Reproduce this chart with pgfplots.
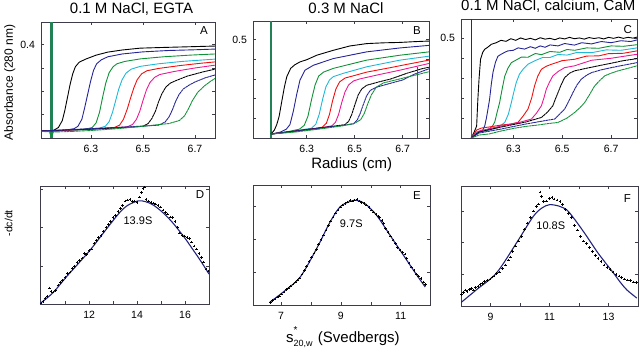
\documentclass[border=0pt]{standalone}
\usepackage{fontspec}
\setmainfont{Liberation Sans}
\usepackage{pgfplots}
\pgfplotsset{compat=1.18}
\definecolor{cframe}{RGB}{60,60,75}
\definecolor{cnavy}{RGB}{35,35,150}
\definecolor{cgreen}{RGB}{15,145,55}
\definecolor{ccyan}{RGB}{30,185,215}
\definecolor{cred}{RGB}{240,15,15}
\definecolor{cmag}{RGB}{235,25,150}
\definecolor{cfit}{RGB}{35,35,125}
\definecolor{cmen}{RGB}{35,130,85}
\definecolor{cvert}{RGB}{225,25,25}
\pgfplotsset{
  panel/.style={scale only axis, anchor=south west,
    axis line style={draw=cframe, line width=0.7pt},
    every tick/.style={draw=cframe, line width=0.5pt},
    major tick length=3pt, tick align=inside,
    xtick pos=both, ytick pos=both,
    ticklabel style={font=\fontsize{10.5}{12}\selectfont, text=black},
    xticklabel style={yshift=-4pt}, yticklabel style={xshift=-2.5pt},
    /pgf/number format/assume math mode=true},
  cv/.style={line width=0.9pt, mark=none},
  cvd/.style={cv, dash pattern=on 2.5pt off 0.45pt},
  fit/.style={cfit, line width=1.1pt, mark=none, smooth},
  sc/.style={only marks, mark=+, mark size=1.3pt, black, mark options={line width=0.6pt}},
}
\begin{document}
\begin{tikzpicture}
\useasboundingbox (0pt,0pt) rectangle (640pt,353pt);
% ---------------- A
\begin{axis}[panel, at={(41pt,215pt)}, width=174pt, height=116pt,
  xmin=6.108, xmax=6.777, ymin=0, ymax=0.497,
  xtick={6.3,6.5,6.7}, xticklabels={6.3,6.5,6.7},
  ytick={0.1,0.2,0.3,0.4}, yticklabels={,,,0.4}]
\addplot[cmen, line width=2.6pt] coordinates {(6.148,0) (6.148,0.497)};
\addplot[cv, black] coordinates {(6.11,0.030) (6.14,0.028) (6.16,0.035) (6.175,0.045) (6.19,0.075) (6.20,0.12) (6.21,0.175) (6.22,0.23) (6.23,0.275) (6.24,0.305) (6.255,0.325) (6.28,0.338) (6.32,0.355) (6.365,0.368) (6.42,0.377) (6.49,0.385) (6.58,0.388) (6.68,0.391) (6.777,0.394)};
\addplot[cv, cnavy] coordinates {(6.11,0.03) (6.15,0.028) (6.2,0.033) (6.235,0.04) (6.25,0.05) (6.265,0.08) (6.275,0.125) (6.287,0.185) (6.298,0.24) (6.31,0.29) (6.322,0.318) (6.34,0.335) (6.365,0.348) (6.42,0.36) (6.5,0.369) (6.6,0.375) (6.7,0.378) (6.777,0.381)};
\addplot[cv, cgreen] coordinates {(6.11,0.03) (6.2,0.032) (6.28,0.038) (6.305,0.045) (6.32,0.065) (6.333,0.11) (6.345,0.175) (6.357,0.235) (6.37,0.28) (6.385,0.305) (6.40,0.318) (6.43,0.328) (6.49,0.339) (6.58,0.348) (6.68,0.355) (6.777,0.36)};
\addplot[cv, ccyan] coordinates {(6.11,0.03) (6.25,0.034) (6.33,0.042) (6.355,0.05) (6.37,0.07) (6.383,0.11) (6.395,0.16) (6.407,0.21) (6.42,0.25) (6.435,0.278) (6.455,0.295) (6.49,0.307) (6.56,0.318) (6.65,0.328) (6.777,0.338)};
\addplot[cv, cred] coordinates {(6.11,0.03) (6.3,0.037) (6.39,0.045) (6.41,0.055) (6.425,0.08) (6.44,0.125) (6.452,0.17) (6.465,0.215) (6.478,0.25) (6.495,0.275) (6.515,0.288) (6.56,0.298) (6.64,0.31) (6.72,0.32) (6.777,0.326)};
\addplot[cv, cmag] coordinates {(6.11,0.03) (6.35,0.04) (6.44,0.048) (6.46,0.058) (6.475,0.08) (6.488,0.115) (6.5,0.16) (6.513,0.205) (6.527,0.238) (6.545,0.26) (6.565,0.272) (6.62,0.285) (6.7,0.3) (6.777,0.312)};
\addplot[cvd, black] coordinates {(6.11,0.03) (6.4,0.043) (6.5,0.05) (6.52,0.062) (6.535,0.085) (6.548,0.115) (6.56,0.155) (6.573,0.19) (6.588,0.218) (6.605,0.235) (6.625,0.245) (6.67,0.265) (6.73,0.283) (6.777,0.295)};
\addplot[cvd, cnavy] coordinates {(6.11,0.03) (6.45,0.048) (6.56,0.055) (6.585,0.068) (6.6,0.09) (6.613,0.12) (6.625,0.155) (6.638,0.185) (6.655,0.21) (6.675,0.225) (6.7,0.24) (6.74,0.258) (6.777,0.27)};
\addplot[cvd, cgreen] coordinates {(6.11,0.028) (6.14,0.027) (6.148,0.004) (6.156,0.026) (6.2,0.027) (6.3,0.032) (6.4,0.04) (6.5,0.05) (6.6,0.062) (6.64,0.075) (6.66,0.095) (6.675,0.125) (6.69,0.16) (6.71,0.195) (6.735,0.222) (6.76,0.243) (6.777,0.255)};
\end{axis}
% ---------------- B
\begin{axis}[panel, at={(253pt,215pt)}, width=176pt, height=117pt,
  xmin=6.076, xmax=6.81, ymin=0, ymax=0.595,
  xtick={6.3,6.5,6.7}, xticklabels={6.3,6.5,6.7},
  ytick={0.1,0.2,0.3,0.4,0.5}, yticklabels={,,,,0.5}]
\addplot[cmen, line width=2.6pt] coordinates {(6.151,0) (6.151,0.595)};
\addplot[cv, black] coordinates {(6.151,0.02) (6.165,0.04) (6.175,0.068) (6.185,0.11) (6.196,0.186) (6.207,0.26) (6.217,0.312) (6.233,0.354) (6.25,0.372) (6.272,0.387) (6.3,0.398) (6.342,0.421) (6.411,0.446) (6.48,0.468) (6.55,0.48) (6.62,0.484) (6.689,0.486) (6.75,0.49) (6.81,0.493)};
\addplot[cv, cnavy] coordinates {(6.151,0.02) (6.19,0.03) (6.215,0.045) (6.23,0.068) (6.244,0.135) (6.258,0.22) (6.272,0.295) (6.293,0.345) (6.328,0.37) (6.411,0.404) (6.55,0.438) (6.689,0.458) (6.81,0.471)};
\addplot[cv, cgreen] coordinates {(6.151,0.02) (6.22,0.032) (6.27,0.045) (6.29,0.065) (6.305,0.11) (6.321,0.2) (6.335,0.27) (6.35,0.315) (6.37,0.335) (6.411,0.354) (6.48,0.375) (6.55,0.396) (6.689,0.421) (6.81,0.438)};
\addplot[cv, ccyan] coordinates {(6.151,0.02) (6.25,0.036) (6.32,0.05) (6.338,0.07) (6.352,0.12) (6.367,0.2) (6.38,0.26) (6.395,0.295) (6.411,0.312) (6.45,0.328) (6.55,0.362) (6.689,0.396) (6.81,0.416)};
\addplot[cv, cred] coordinates {(6.151,0.02) (6.3,0.042) (6.365,0.055) (6.382,0.075) (6.395,0.12) (6.408,0.19) (6.422,0.25) (6.437,0.285) (6.46,0.305) (6.5,0.318) (6.55,0.335) (6.65,0.358) (6.72,0.375) (6.81,0.396)};
\addplot[cv, cmag] coordinates {(6.151,0.02) (6.35,0.05) (6.405,0.062) (6.42,0.08) (6.433,0.12) (6.446,0.18) (6.46,0.235) (6.475,0.27) (6.495,0.29) (6.52,0.3) (6.6,0.322) (6.689,0.345) (6.81,0.379)};
\addplot[cvd, black] coordinates {(6.151,0.02) (6.4,0.058) (6.46,0.068) (6.475,0.085) (6.488,0.12) (6.501,0.17) (6.515,0.22) (6.53,0.25) (6.55,0.268) (6.6,0.285) (6.65,0.3) (6.72,0.33) (6.78,0.352) (6.81,0.36)};
\addplot[cvd, cnavy] coordinates {(6.151,0.02) (6.45,0.064) (6.495,0.072) (6.51,0.09) (6.523,0.125) (6.536,0.17) (6.55,0.215) (6.565,0.242) (6.59,0.258) (6.64,0.275) (6.7,0.295) (6.75,0.325) (6.81,0.352)};
\addplot[cvd, cgreen] coordinates {(6.151,0.02) (6.25,0.03) (6.35,0.045) (6.45,0.062) (6.5,0.075) (6.525,0.093) (6.54,0.125) (6.555,0.175) (6.57,0.22) (6.59,0.258) (6.62,0.28) (6.66,0.292) (6.72,0.31) (6.81,0.337)};
\addplot[draw=cvert, line width=1.4pt, mark=none, solid] coordinates {(6.761,0.002) (6.761,0.36)};
\end{axis}
% ---------------- C
\begin{axis}[panel, at={(461pt,215pt)}, width=176pt, height=119pt,
  xmin=6.086, xmax=6.806, ymin=0, ymax=0.597,
  xtick={6.3,6.5,6.7}, xticklabels={6.3,6.5,6.7},
  ytick={0.1,0.2,0.3,0.4,0.5}, yticklabels={,,,,0.5}]
\addplot[cnavy, line width=1.3pt] coordinates {(6.128,0) (6.128,0.597)};
\addplot[cgreen, line width=1.1pt] coordinates {(6.129,0) (6.129,0.3)};
\addplot[cv, black] coordinates {(6.128,0.0) (6.14,0.03) (6.15,0.06) (6.155,0.195) (6.16,0.3) (6.166,0.395) (6.175,0.43) (6.183,0.445) (6.195,0.455) (6.21,0.47) (6.23,0.478) (6.25,0.49) (6.27,0.485) (6.29,0.498) (6.31,0.49) (6.33,0.502) (6.35,0.494) (6.37,0.5) (6.39,0.492) (6.41,0.503) (6.43,0.496) (6.45,0.5) (6.47,0.493) (6.49,0.502) (6.51,0.497) (6.53,0.505) (6.55,0.498) (6.57,0.502) (6.59,0.496) (6.61,0.504) (6.63,0.499) (6.65,0.503) (6.67,0.497) (6.69,0.505) (6.71,0.5) (6.73,0.506) (6.75,0.5) (6.77,0.505) (6.79,0.501) (6.806,0.506)};
\addplot[cv, cnavy] coordinates {(6.128,0.0) (6.145,0.02) (6.16,0.03) (6.175,0.04) (6.183,0.06) (6.19,0.1) (6.197,0.15) (6.203,0.195) (6.21,0.27) (6.217,0.33) (6.227,0.38) (6.237,0.41) (6.25,0.42) (6.265,0.43) (6.278,0.437) (6.3,0.44) (6.32,0.452) (6.346,0.446) (6.37,0.458) (6.39,0.45) (6.41,0.462) (6.43,0.455) (6.45,0.467) (6.483,0.462) (6.51,0.474) (6.55,0.466) (6.58,0.478) (6.62,0.472) (6.66,0.484) (6.7,0.478) (6.74,0.488) (6.78,0.484) (6.806,0.492)};
\addplot[cv, cgreen] coordinates {(6.128,0.0) (6.15,0.03) (6.18,0.035) (6.2,0.045) (6.215,0.06) (6.224,0.08) (6.234,0.13) (6.244,0.178) (6.255,0.25) (6.265,0.31) (6.278,0.35) (6.292,0.378) (6.31,0.39) (6.333,0.406) (6.36,0.405) (6.39,0.424) (6.415,0.418) (6.45,0.434) (6.49,0.43) (6.52,0.444) (6.551,0.44) (6.6,0.452) (6.65,0.45) (6.7,0.462) (6.75,0.46) (6.806,0.468)};
\addplot[cv, ccyan] coordinates {(6.128,0.0) (6.15,0.03) (6.2,0.04) (6.24,0.055) (6.265,0.078) (6.28,0.12) (6.292,0.178) (6.302,0.23) (6.312,0.278) (6.325,0.32) (6.34,0.345) (6.36,0.37) (6.387,0.387) (6.42,0.404) (6.45,0.404) (6.483,0.419) (6.52,0.416) (6.56,0.429) (6.62,0.428) (6.68,0.442) (6.74,0.44) (6.806,0.452)};
\addplot[cv, cred] coordinates {(6.128,0.0) (6.15,0.04) (6.17,0.05) (6.2,0.055) (6.25,0.065) (6.29,0.07) (6.319,0.078) (6.34,0.11) (6.36,0.145) (6.375,0.2) (6.387,0.262) (6.4,0.31) (6.415,0.345) (6.435,0.36) (6.456,0.37) (6.5,0.388) (6.551,0.395) (6.6,0.411) (6.65,0.412) (6.688,0.423) (6.75,0.425) (6.806,0.437)};
\addplot[cv, cmag] coordinates {(6.128,0.0) (6.16,0.035) (6.25,0.06) (6.33,0.08) (6.374,0.095) (6.395,0.125) (6.415,0.162) (6.425,0.2) (6.435,0.245) (6.448,0.28) (6.462,0.312) (6.485,0.335) (6.51,0.353) (6.55,0.362) (6.62,0.39) (6.7,0.4) (6.806,0.42)};
\addplot[cvd, black] coordinates {(6.128,0.0) (6.16,0.03) (6.25,0.055) (6.35,0.08) (6.415,0.103) (6.44,0.13) (6.462,0.162) (6.472,0.195) (6.483,0.228) (6.495,0.265) (6.51,0.303) (6.53,0.325) (6.551,0.337) (6.6,0.35) (6.647,0.362) (6.7,0.375) (6.75,0.388) (6.806,0.398)};
\addplot[cvd, cnavy] coordinates {(6.128,0.0) (6.16,0.025) (6.25,0.045) (6.35,0.07) (6.42,0.085) (6.469,0.095) (6.49,0.12) (6.51,0.145) (6.527,0.185) (6.544,0.228) (6.56,0.265) (6.578,0.295) (6.6,0.315) (6.62,0.328) (6.66,0.342) (6.701,0.353) (6.75,0.365) (6.806,0.378)};
\addplot[cvd, cgreen] coordinates {(6.128,0.0) (6.16,0.015) (6.2,0.02) (6.25,0.035) (6.3,0.048) (6.35,0.058) (6.4,0.065) (6.44,0.072) (6.483,0.078) (6.52,0.1) (6.551,0.128) (6.575,0.155) (6.592,0.178) (6.613,0.22) (6.633,0.262) (6.655,0.29) (6.674,0.312) (6.7,0.325) (6.729,0.337) (6.77,0.35) (6.806,0.362)};
\end{axis}
% ---------------- D
\begin{axis}[panel, at={(40pt,49pt)}, width=169pt, height=118pt,
  xmin=9.95, xmax=17.0, ymin=0, ymax=3.09,
  xtick={11,12,13,14,15,16}, xticklabels={,12,,14,,16},
  ytick={1,2,3}, yticklabels={}]
\addplot[sc] coordinates {(10.0,0.03) (10.08,0.06) (10.16,0.14) (10.25,0.20) (10.34,0.42) (10.41,0.33) (10.5,0.31) (10.6,0.36) (10.7,0.50) (10.8,0.56) (10.9,0.62) (11.0,0.70) (11.1,0.80) (11.2,0.84) (11.3,0.93) (11.4,0.98) (11.5,1.08) (11.6,1.14) (11.7,1.20) (11.8,1.32) (11.9,1.30) (12.0,1.40) (12.1,1.44) (12.2,1.58) (12.3,1.66) (12.4,1.74) (12.5,1.80) (12.6,1.90) (12.7,2.00) (12.8,2.08) (12.9,2.16) (13.0,2.26) (13.1,2.32) (13.2,2.42) (13.3,2.50) (13.4,2.58) (13.5,2.70) (13.6,2.72) (13.7,2.74) (13.8,2.68) (13.9,2.70) (14.0,2.66) (14.1,2.80) (14.18,2.92) (14.25,3.02) (14.3,3.06) (14.38,2.74) (14.48,2.70) (14.58,2.66) (14.68,2.64) (14.78,2.62) (14.88,2.58) (14.98,2.54) (15.08,2.46) (15.18,2.40) (15.28,2.36) (15.38,2.28) (15.48,2.26) (15.58,2.16) (15.68,2.00) (15.78,1.86) (15.88,1.80) (15.98,1.78) (16.08,1.74) (16.18,1.72) (16.28,1.62) (16.38,1.52) (16.48,1.44) (16.58,1.32) (16.68,1.22) (16.78,1.10) (16.88,0.92) (16.96,0.86)};
\addplot[fit] coordinates {(9.97,0.02) (10.5,0.30) (11.05,0.71) (12.0,1.38) (12.73,1.97) (13.28,2.40) (13.6,2.58) (14.04,2.70) (14.35,2.68) (14.68,2.59) (15.1,2.38) (15.51,2.11) (16.0,1.72) (16.3,1.45) (16.63,1.15) (17.0,0.785)};
\end{axis}
% ---------------- E
\begin{axis}[panel, at={(253pt,48pt)}, width=177pt, height=120pt,
  xmin=6.064, xmax=11.98, ymin=0, ymax=3.66,
  xtick={7,8,9,10,11}, xticklabels={7,,9,,11},
  ytick={1,2,3}, yticklabels={}]
\addplot[sc] coordinates {(6.65,0.08) (6.72,0.14) (6.8,0.18) (6.88,0.24) (6.95,0.28) (7.02,0.34) (7.1,0.40) (7.18,0.47) (7.25,0.52) (7.32,0.58) (7.4,0.64) (7.48,0.70) (7.55,0.76) (7.62,0.82) (7.7,0.95) (7.78,1.06) (7.86,1.18) (7.94,1.32) (8.02,1.45) (8.1,1.58) (8.18,1.70) (8.26,1.85) (8.34,1.99) (8.42,2.14) (8.5,2.29) (8.58,2.43) (8.66,2.56) (8.74,2.68) (8.82,2.80) (8.9,2.90) (8.98,2.99) (9.06,3.05) (9.14,3.10) (9.22,3.14) (9.3,3.18) (9.38,3.17) (9.46,3.20) (9.54,3.22) (9.62,3.17) (9.7,3.12) (9.78,3.10) (9.86,3.05) (9.94,2.98) (10.02,2.90) (10.1,2.84) (10.18,2.76) (10.26,2.70) (10.3,2.66) (10.37,2.58) (10.42,2.48) (10.5,2.34) (10.58,2.22) (10.66,2.10) (10.74,1.98) (10.82,1.87) (10.9,1.76) (10.98,1.68) (11.06,1.60) (11.14,1.55) (11.2,1.42) (11.28,1.28) (11.36,1.16) (11.44,1.05) (11.52,0.94) (11.6,0.88) (11.68,0.80) (11.76,0.70) (11.82,0.62)};
\addplot[fit] coordinates {(6.63,0.09) (7.08,0.40) (7.64,0.85) (8.19,1.72) (8.64,2.53) (8.97,2.99) (9.31,3.16) (9.53,3.19) (9.81,3.09) (10.2,2.73) (10.65,2.12) (11.09,1.52) (11.54,0.91) (11.82,0.55)};
\end{axis}
% ---------------- F
\begin{axis}[panel, at={(461pt,47pt)}, width=177pt, height=120pt,
  xmin=8, xmax=14, ymin=0, ymax=3.79,
  xtick={9,10,11,12,13}, xticklabels={9,,11,,13},
  ytick={1,2,3}, yticklabels={}]
\addplot[sc] coordinates {(7.95,0.30) (8.02,0.36) (8.08,0.42) (8.15,0.50) (8.2,0.45) (8.28,0.52) (8.35,0.55) (8.42,0.50) (8.5,0.58) (8.58,0.62) (8.65,0.68) (8.72,0.72) (8.8,0.78) (8.9,0.80) (8.98,0.85) (9.05,0.92) (9.12,0.95) (9.2,1.02) (9.3,1.08) (9.4,1.18) (9.5,1.30) (9.6,1.45) (9.68,1.55) (9.75,1.72) (9.85,1.90) (9.95,2.05) (10.05,2.2) (10.15,2.42) (10.25,2.62) (10.35,2.80) (10.45,3.00) (10.55,3.15) (10.62,3.22) (10.68,3.60) (10.72,3.45) (10.8,3.30) (10.9,3.32) (11.0,3.40) (11.08,3.42) (11.15,3.38) (11.25,3.35) (11.35,3.30) (11.45,3.20) (11.55,3.05) (11.65,2.92) (11.75,2.80) (11.85,2.55) (11.95,2.40) (12.05,2.20) (12.15,2.05) (12.25,1.98) (12.35,1.85) (12.45,1.72) (12.55,1.60) (12.65,1.50) (12.75,1.40) (12.85,1.30) (12.95,1.22) (13.05,1.15) (13.15,1.08) (13.25,1.00) (13.35,0.95) (13.45,0.90) (13.55,0.85) (13.65,0.82) (13.75,0.80) (13.85,0.76) (13.95,0.74)};
\addplot[fit] coordinates {(7.95,0.07) (8.52,0.51) (9.2,1.04) (9.88,1.99) (10.45,2.83) (10.75,3.1) (11.0,3.20) (11.3,3.16) (11.58,3.04) (11.8,2.8) (12.03,2.51) (12.3,2.15) (12.6,1.73) (12.9,1.36) (13.17,1.04) (13.4,0.75) (13.62,0.51) (13.96,0.25)};
\end{axis}
% ---------------- texts
\node[anchor=base, inner sep=0, font=\fontsize{15}{17}\selectfont] at (131.5pt,339pt) {0.1 M NaCl, EGTA};
\node[anchor=base, inner sep=0, font=\fontsize{15}{17}\selectfont] at (346pt,339.7pt) {0.3 M NaCl};
\node[anchor=base, inner sep=0, font=\fontsize{15}{17}\selectfont] at (548.3pt,342pt) {0.1 M NaCl, calcium, CaM};
\node[anchor=base, inner sep=0, font=\fontsize{15}{17}\selectfont] at (351.7pt,184.7pt) {Radius (cm)};
\node[anchor=base west, inner sep=0, font=\fontsize{15}{17}\selectfont] at (286pt,10.7pt) {s\rlap{\raisebox{1.05ex}{\fontsize{10}{10}\selectfont *}}\raisebox{-0.55ex}{\fontsize{9}{10}\selectfont 20,w}\hspace{0.35em}(Svedbergs)};
\node[anchor=base, inner sep=0, rotate=90, font=\fontsize{12}{14}\selectfont] at (13pt,270.5pt) {Absorbance (280 nm)};
\node[anchor=base, inner sep=0, rotate=90, font=\fontsize{10.5}{12}\selectfont] at (12.5pt,129.7pt) {-dc/dt};
\node[anchor=base east, inner sep=0, font=\fontsize{11.5}{13}\selectfont] at (208pt,318.7pt) {A};
\node[anchor=base east, inner sep=0, font=\fontsize{11.5}{13}\selectfont] at (421pt,318pt) {B};
\node[anchor=base east, inner sep=0, font=\fontsize{11.5}{13}\selectfont] at (632pt,319.7pt) {C};
\node[anchor=base east, inner sep=0, font=\fontsize{11.5}{13}\selectfont] at (204.5pt,154pt) {D};
\node[anchor=base east, inner sep=0, font=\fontsize{11.5}{13}\selectfont] at (421pt,153.7pt) {E};
\node[anchor=base east, inner sep=0, font=\fontsize{11.5}{13}\selectfont] at (631pt,150.3pt) {F};
\node[anchor=base, inner sep=0, font=\fontsize{11}{13}\selectfont] at (138pt,128pt) {13.9S};
\node[anchor=base, inner sep=0, font=\fontsize{11}{13}\selectfont] at (351.3pt,125.3pt) {9.7S};
\node[anchor=base, inner sep=0, font=\fontsize{11}{13}\selectfont] at (550.8pt,123pt) {10.8S};
\end{tikzpicture}
\end{document}
